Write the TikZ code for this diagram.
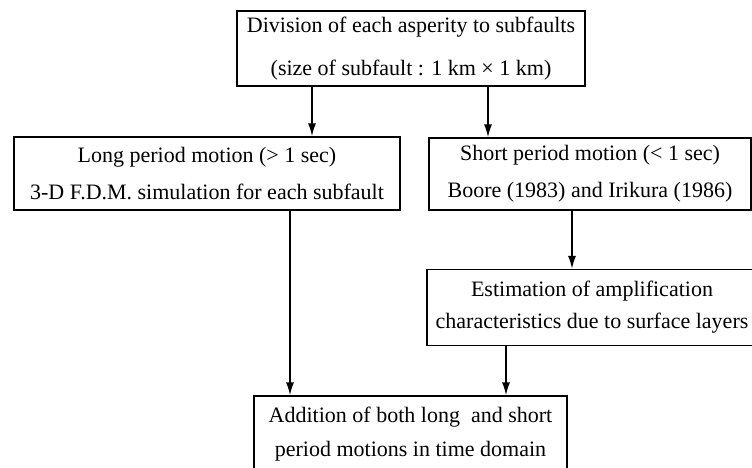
\documentclass[tikz,border=0pt]{standalone}
\usepackage{fontspec}
\setmainfont{Liberation Serif}
\usetikzlibrary{arrows.meta}
\begin{document}
\begin{tikzpicture}[x=1pt,y=-1pt,
  box/.style={draw, line width=1.2pt, inner sep=0pt, align=center,
    font=\fontsize{22}{#1}\selectfont},
  box/.default=38,
  arr/.style={line width=1.6pt, -{Latex[length=13pt,width=8pt]}}]
\clip (0,0) rectangle (752,468);
\fill[white] (0,0) rectangle (752,468);
\node[box=43, minimum width=348pt, minimum height=75pt] (top) at (411,48.5)
  {Division of each asperity to subfaults\\(size of subfault : 1 km × 1 km)};
\node[box=37, minimum width=386pt, minimum height=73pt] (long) at (207,173.5)
  {Long period motion (> 1 sec)\\3-D F.D.M. simulation for each subfault};
\node[box=37, minimum width=322pt, minimum height=72pt] (short) at (590,174)
  {Short period motion (< 1 sec)\\Boore (1983) and Irikura (1986)};
\node[box=32, minimum width=330pt, minimum height=76pt] (est) at (592,307.5)
  {Estimation of amplification\\characteristics due to surface layers};
\node[box=34, minimum width=313pt, minimum height=76pt] (add) at (410.5,434)
  {Addition of both long\ \ and short\\period motions in time domain};
\path (312,0) coordinate (c1) (488,0) coordinate (c2) (290,0) coordinate (c3)
      (572,0) coordinate (c4) (506,0) coordinate (c5);
\draw[arr] (c1 |- top.south) -- (c1 |- long.north);
\draw[arr] (c2 |- top.south) -- (c2 |- short.north);
\draw[arr] (c3 |- long.south) -- (c3 |- add.north);
\draw[arr] (c4 |- short.south) -- (c4 |- est.north);
\draw[arr] (c5 |- est.south) -- (c5 |- add.north);
\end{tikzpicture}
\end{document}
